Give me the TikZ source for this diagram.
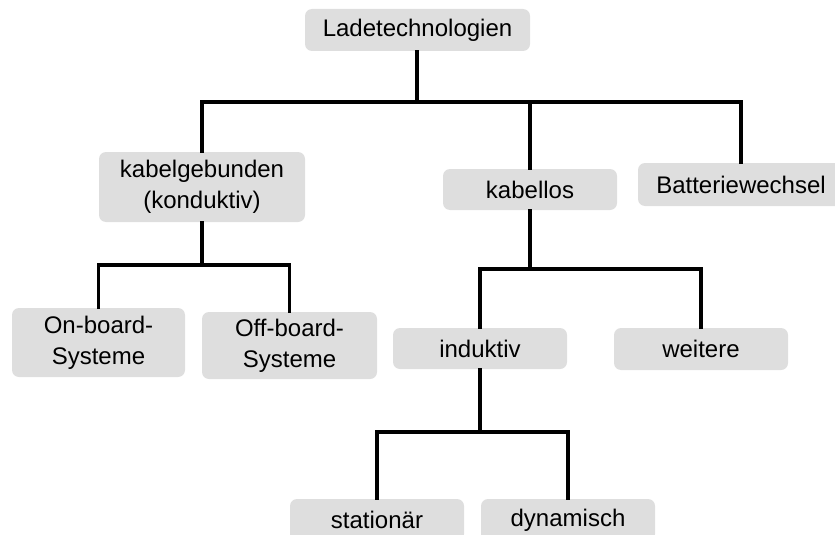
\documentclass[tikz,border=0pt]{standalone}
\usepackage{fontspec}
\setmainfont{Liberation Sans}
\definecolor{boxgray}{RGB}{222,222,222}
\begin{document}
\begin{tikzpicture}[x=1pt,y=-1pt,
  box/.style={fill=boxgray, rounded corners=7pt, inner sep=0pt, align=center,
    font=\fontsize{24}{31}\selectfont},
  conn/.style={line width=3.1pt, line cap=rect, line join=miter}]
\useasboundingbox (0,0) rectangle (835,535);
\node[box, minimum width=225, minimum height=42] (L) at (417.5,30) {Ladetechnologien};
\node[box, minimum width=206, minimum height=70] (kg) at (202,187) {kabelgebunden\\(konduktiv)};
\node[box, minimum width=174, minimum height=41] (kl) at (530,189.5) {kabellos};
\node[box, minimum width=206, minimum height=43] (bw) at (741,184.5) {Batteriewechsel};
\node[box, minimum width=173, minimum height=69] (on) at (98.5,342.5) {On-board-\\Systeme};
\node[box, minimum width=175, minimum height=67] (off) at (289.5,345.5) {Off-board-\\Systeme};
\node[box, minimum width=174, minimum height=41] (ind) at (480,348.5) {induktiv};
\node[box, minimum width=174, minimum height=42] (wei) at (701,349) {weitere};
\node[box, minimum width=174, minimum height=42] (sta) at (377,520) {stationär};
\node[box, minimum width=174, minimum height=42] (dyn) at (568,520) {dynamisch};
\coordinate (j1) at (417,102);
\coordinate (j2) at (202,265);
\coordinate (j3) at (530,269);
\coordinate (j4) at (480,432);
% level 1
\draw[conn] (L.south -| j1) -- (j1);
\draw[conn] (kg.north) -- (kg.north |- j1) -- (bw.north |- j1) -- (bw.north);
\draw[conn] (kl.north) -- (kl.north |- j1);
% kabelgebunden
\draw[conn] (kg.south) -- (j2);
\draw[conn] (on.north) -- (on.north |- j2) -- (off.north |- j2) -- (off.north);
% kabellos
\draw[conn] (kl.south) -- (j3);
\draw[conn] (ind.north) -- (ind.north |- j3) -- (wei.north |- j3) -- (wei.north);
% induktiv
\draw[conn] (ind.south) -- (j4);
\draw[conn] (sta.north) -- (sta.north |- j4) -- (dyn.north |- j4) -- (dyn.north);
\end{tikzpicture}
\end{document}
